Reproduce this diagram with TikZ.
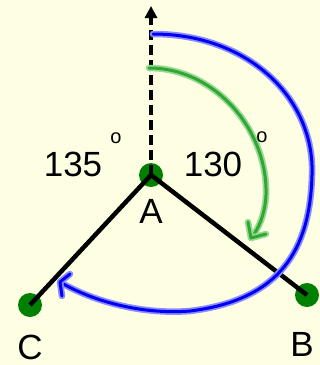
\documentclass[tikz,border=0pt]{standalone}
\usepackage{fontspec}
\setmainfont{Liberation Sans}
\usetikzlibrary{arrows.meta}
\definecolor{bg}{HTML}{FEFEE2}
\definecolor{dotgreen}{HTML}{008000}
\definecolor{arcgreen}{HTML}{2EA82E}
\definecolor{glowgreen}{HTML}{9AD89A}
\definecolor{arcblue}{HTML}{0000F0}
\definecolor{glowblue}{HTML}{8C8CFF}
\tikzset{
  dot/.style={circle,fill=dotgreen,minimum size=24pt,inner sep=0pt},
  leg/.style={line width=4.5pt,black},
  lbl/.style={font=\fontsize{35}{38}\selectfont,inner sep=0pt},
  deg/.style={font=\fontsize{20}{22}\selectfont,inner sep=0pt},
}
\begin{document}
\begin{tikzpicture}[x=1pt,y=-1pt]
\fill[bg] (0,0) rectangle (320,365);
\useasboundingbox (0,0) rectangle (320,365);
\node[dot] (A) at (151,175) {};
\node[dot] (B) at (307,295) {};
\node[dot] (C) at (30,305) {};
\coordinate (top) at (151,6);
\draw[line width=4.5pt,dash pattern=on 10pt off 5pt,-{Triangle[width=12pt,length=12pt]}] (A.center) -- (top);
\draw[leg] (A.center) -- (B.center);
\draw[leg] (A.center) -- (C.center);
% green arc
\coordinate (gs) at (149,68);
\coordinate (ge) at (251,238);
\draw[glowgreen,line width=6.5pt,line cap=round] (gs) .. controls (215,68) and (268,130) .. (266,195) .. controls (265,215) and (258,230) .. (ge);
\draw[arcgreen,line width=3pt,line cap=round] (gs) .. controls (215,68) and (268,130) .. (266,195) .. controls (265,215) and (258,230) .. (ge);
\draw[glowgreen,line width=6.5pt,line cap=round,line join=round] (248,222) -- (ge) -- (266,234);
\draw[arcgreen,line width=3pt,line cap=round,line join=round] (248,222) -- (ge) -- (266,234);
% blue arc
\coordinate (bs) at (153,34);
\coordinate (be) at (60,282);
\draw[glowblue,line width=6.5pt,line cap=round] (bs) .. controls (250,34) and (315,100) .. (312,175) .. controls (310,250) and (280,300) .. (190,311) .. controls (140,315) and (90,300) .. (be);
\draw[arcblue,line width=3pt,line cap=round] (bs) .. controls (250,34) and (315,100) .. (312,175) .. controls (310,250) and (280,300) .. (190,311) .. controls (140,315) and (90,300) .. (be);
\draw[glowblue,line width=6.5pt,line cap=round,line join=round] (70,274) -- (be) -- (62,296);
\draw[arcblue,line width=3pt,line cap=round,line join=round] (70,274) -- (be) -- (62,296);
% labels
\node[lbl] (l135) at (73,164) {135};
\node[deg] (d135) at (116,138) {o};
\node[lbl] (l130) at (213,164) {130};
\node[deg] (d130) at (262,137) {o};
\node[lbl] (lA) at (151,211) {A};
\node[lbl] (lC) at (30,347) {C};
\node[lbl] (lB) at (302,344) {B};
\end{tikzpicture}
\end{document}
